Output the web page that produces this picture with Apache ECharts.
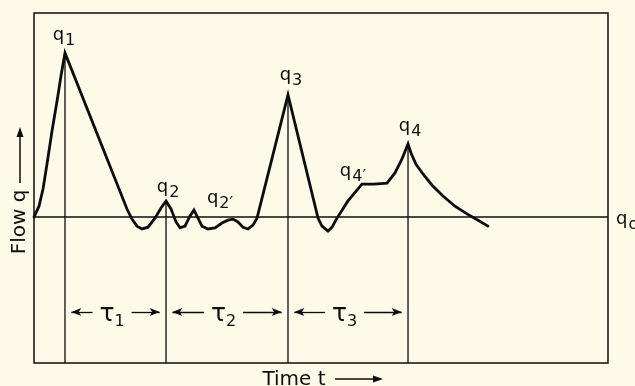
<!DOCTYPE html>
<html><head><meta charset="utf-8">
<script src="https://cdn.jsdelivr.net/npm/echarts@6/dist/echarts.min.js"></script>
<style>html,body{margin:0;padding:0;background:#fdfae8;}#c{width:635px;height:386px;}</style>
</head><body><div id="c"></div>
<script>
// Flow record q(t) — time in arbitrary units (0..100), flow relative to q0
const curveT = [0,0.87,1.57,2.26,3.14,4.01,4.70,5.40,
  16.20,17.07,17.94,18.82,19.86,21.08,22.13,23.00,23.87,24.74,25.44,26.31,27.18,27.87,28.57,29.27,30.31,31.53,32.75,33.80,34.67,35.54,36.41,37.28,38.15,38.85,
  44.25,
  49.48,50.17,51.22,51.92,52.79,54.70,57.14,59.23,61.50,62.89,64.11,65.16,
  65.68,66.55,67.77,69.34,71.25,73.34,75.44,77.35,79.09];
const curveQ = [0,0.31,0.80,1.51,2.46,3.31,4.03,4.69,
  0.23,-0.06,-0.26,-0.34,-0.29,-0.03,0.26,0.46,0.23,-0.14,-0.31,-0.26,0.03,0.20,-0.03,-0.26,-0.34,-0.31,-0.17,-0.09,-0.06,-0.14,-0.29,-0.34,-0.23,-0.03,
  3.49,
  -0.03,-0.26,-0.40,-0.29,-0.03,0.46,0.94,0.94,0.97,1.26,1.66,2.09,
  1.83,1.51,1.23,0.91,0.60,0.31,0.09,-0.09,-0.26];
const peakT = [5.40, 23.00, 44.25, 65.16];
const peakQ = [4.69, 0.46, 3.49, 2.09];
const peakSub = ['1', '2', '3', '4'];
const shoulderT = [34.67, 57.14];
const shoulderQ = [-0.06, 0.94];
const shoulderSub = ['2\u2032', '4\u2032'];
const tauSub = ['1', '2', '3'];
const tauLevel = -2.71;
const baseQ = 0;
const T_MIN = 0, T_MAX = 100, Q_MIN = -4.17, Q_MAX = 5.83;

const INK = '#0d0d0d';
const FONT = 'DejaVu Sans';
const W = 'normal';
const rich = {
  m: {fontSize: 18, fontFamily: FONT, fontWeight: W, color: INK},
  s: {fontSize: 16, fontFamily: FONT, fontWeight: W, color: INK, padding: [12, 0, 0, 1]},
  t: {fontSize: 25, fontFamily: FONT, fontWeight: W, color: INK},
  ts: {fontSize: 16, fontFamily: FONT, fontWeight: W, color: INK, padding: [14, 0, 0, 0]}
};
const peakOffsets = [[-1, -18], [2, -14], [3, -20], [2, -18]];
const shoulderOffsets = [[-13, -21], [-9, -13]];

const chart = echarts.init(document.getElementById('c'), null, {renderer: 'canvas'});

const series = [];
// baseline q0
series.push({
  type: 'line', data: [[T_MIN, baseQ], [T_MAX, baseQ]], showSymbol: false, silent: true,
  lineStyle: {color: INK, width: 1.5},
  endLabel: {show: true, formatter: '{m|q}{s|o}', rich: rich, distance: 8, offset: [0, 2]}
});
// vertical lines at peaks
peakT.forEach((t, i) => {
  series.push({
    type: 'line', data: [[t, peakQ[i]], [t, Q_MIN]], showSymbol: false, silent: true,
    lineStyle: {color: INK, width: 1.3}
  });
});
// main curve
series.push({
  type: 'line', data: curveT.map((t, i) => [t, curveQ[i]]), showSymbol: false, silent: true,
  sampling: null, lineStyle: {color: INK, width: 2.8, join: 'miter', cap: 'round'}
});
const labelCommon = {show: true, position: 'inside', rich: rich, opacity: 1, color: INK};
// peak labels
series.push({
  type: 'scatter', symbolSize: 0, silent: true, itemStyle: {opacity: 1},
  data: peakT.map((t, i) => ({value: [t, peakQ[i]], label: {offset: peakOffsets[i]}, sub: peakSub[i]})),
  label: Object.assign({}, labelCommon, {formatter: p => '{m|q}{s|' + p.data.sub + '}'})
});
series.push({
  type: 'scatter', symbolSize: 0, silent: true, itemStyle: {opacity: 1},
  data: shoulderT.map((t, i) => ({value: [t, shoulderQ[i]], label: {offset: shoulderOffsets[i]}, sub: shoulderSub[i]})),
  label: Object.assign({}, labelCommon, {formatter: p => '{m|q}{s|' + p.data.sub + '}'})
});
// tau intervals
const inset = 1.1, gap = 3.4;
const tauMid = [], arrowSegs = [];
for (let i = 0; i < peakT.length - 1; i++) {
  const a = peakT[i], b = peakT[i + 1];
  const mid = (a + b) / 2 - 0.6;
  tauMid.push(mid);
  arrowSegs.push([{coord: [a + inset, tauLevel]}, {coord: [mid - gap, tauLevel]}]);
  arrowSegs.push([{coord: [b - inset, tauLevel]}, {coord: [mid + gap, tauLevel]}]);
}
series.push({
  type: 'scatter', symbolSize: 0, silent: true, itemStyle: {opacity: 1},
  data: tauMid.map((t, i) => ({value: [t, tauLevel], sub: tauSub[i]})),
  label: Object.assign({}, labelCommon, {offset: [0, 3], formatter: p => '{t|\u03c4}{ts|' + p.data.sub + '}'}),
  markLine: {
    silent: true, animation: false, symbol: ['arrow', 'none'], symbolSize: [6, 10],
    label: {show: false}, lineStyle: {color: INK, width: 1.3, type: 'solid', opacity: 1},
    itemStyle: {color: INK, opacity: 1},
    emphasis: {disabled: true},
    data: arrowSegs
  }
});

chart.setOption({
  animation: false,
  backgroundColor: '#fdfae8',
  grid: {left: 34, right: 27, top: 13, bottom: 23, show: true, borderColor: INK, borderWidth: 1.5, backgroundColor: 'transparent'},
  xAxis: {type: 'value', min: T_MIN, max: T_MAX, axisLine: {show: false}, axisTick: {show: false}, axisLabel: {show: false}, splitLine: {show: false}},
  yAxis: {type: 'value', min: Q_MIN, max: Q_MAX, axisLine: {show: false}, axisTick: {show: false}, axisLabel: {show: false}, splitLine: {show: false}},
  series: series,
  graphic: [
    {type: 'text', x: 20, y: 222, rotation: Math.PI / 2, silent: true,
     style: {text: 'Flow q', font: '20px "DejaVu Sans"', fill: INK, align: 'center', verticalAlign: 'middle'}},
    {type: 'line', silent: true, shape: {x1: 20, y1: 183, x2: 20, y2: 134}, style: {stroke: INK, lineWidth: 1.5}},
    {type: 'polygon', silent: true, shape: {points: [[20, 127], [16.5, 137], [23.5, 137]]}, style: {fill: INK}},
    {type: 'text', x: 294, y: 370, silent: true,
     style: {text: 'Time t', font: '20px "DejaVu Sans"', fill: INK, align: 'center', verticalAlign: 'top'}},
    {type: 'line', silent: true, shape: {x1: 335, y1: 379, x2: 376, y2: 379}, style: {stroke: INK, lineWidth: 1.5}},
    {type: 'polygon', silent: true, shape: {points: [[383, 379], [373, 375.5], [373, 382.5]]}, style: {fill: INK}}
  ]
});
</script></body></html>
